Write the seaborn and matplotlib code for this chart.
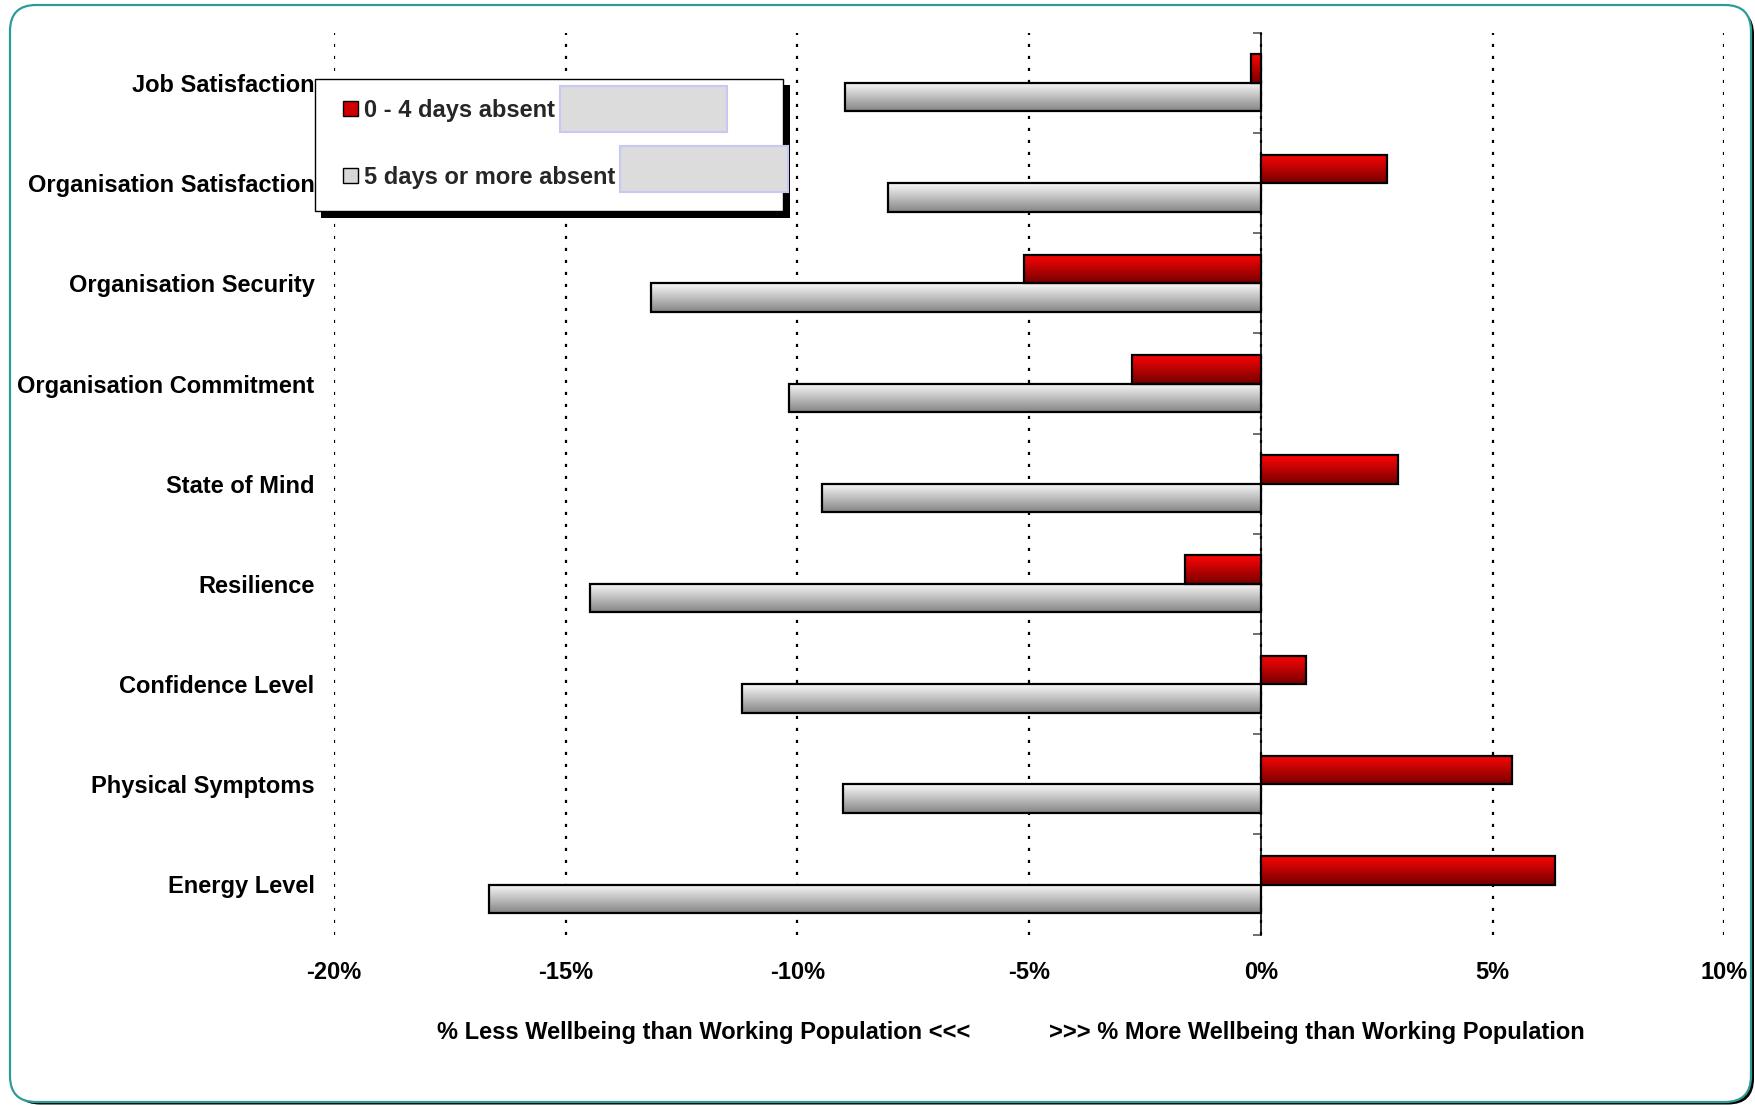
import numpy as np
import pandas as pd
import matplotlib
matplotlib.use("Agg")
import matplotlib.pyplot as plt
import seaborn as sns
from matplotlib.patches import Rectangle, FancyBboxPatch, Patch
from matplotlib.transforms import IdentityTransform
from matplotlib.ticker import FuncFormatter

# ---------------- data ----------------
categories = [
    "Job Satisfaction",
    "Organisation Satisfaction",
    "Organisation Security",
    "Organisation Commitment",
    "State of Mind",
    "Resilience",
    "Confidence Level",
    "Physical Symptoms",
    "Energy Level",
]
group_names = ["0 - 4 days absent", "5 days or more absent"]
absent_0_4 = [-0.21, 2.73, -5.12, -2.78, 2.96, -1.64, 0.98, 5.42, 6.35]
absent_5_plus = [-8.98, -8.04, -13.15, -10.19, -9.48, -14.48, -11.20, -9.01, -16.66]
x_ticks = [-20, -15, -10, -5, 0, 5, 10]
left_label = "% Less Wellbeing than Working Population <<<"
right_label = ">>> % More Wellbeing than Working Population"

# ---------------- style ----------------
sns.set_theme(style="white")
plt.rcParams["font.family"] = ["Liberation Sans", "DejaVu Sans"]
plt.rcParams["font.weight"] = "bold"
FS = 17

W, H = 1756, 1105


def fx(px):
    return px / W


def fy(py):
    return 1 - py / H


fig = plt.figure(figsize=(W / 100, H / 100), dpi=100)
fig.patch.set_facecolor("white")

# outer rounded frame with shadow
shadow = FancyBboxPatch((14, 0.5), 1740, 1096, boxstyle="round,pad=0,rounding_size=26",
                        transform=IdentityTransform(), facecolor="black", edgecolor="black",
                        linewidth=0, zorder=-10)
frame = FancyBboxPatch((10, 3), 1741, 1097, boxstyle="round,pad=0,rounding_size=26",
                       transform=IdentityTransform(), facecolor="white", edgecolor="#2E9C96",
                       linewidth=1.6, zorder=-9)
fig.add_artist(shadow)
fig.add_artist(frame)

ax_left, ax_right = 334, 1724.4
ax_top, ax_bottom = 32.8, 934.6
ax = fig.add_axes([fx(ax_left), fy(ax_bottom), (ax_right - ax_left) / W, (ax_bottom - ax_top) / H])
ax.set_facecolor("none")

df = pd.DataFrame({
    "Category": categories * 2,
    "Group": [group_names[0]] * len(categories) + [group_names[1]] * len(categories),
    "Value": absent_0_4 + absent_5_plus,
})

sns.barplot(data=df, x="Value", y="Category", hue="Group", order=categories,
            hue_order=group_names, orient="h", width=0.57,
            palette=["#CC0000", "#C8C8C8"], edgecolor="black", linewidth=1.6,
            errorbar=None, legend=False, ax=ax, zorder=3)


def gradient(top, bottom, n=64):
    t = np.linspace(0, 1, n)[:, None]
    top = np.array(top)[None, :]
    bottom = np.array(bottom)[None, :]
    return (top * (1 - t) + bottom * t)[:, None, :]


red_grad = gradient((1.0, 0.02, 0.02), (0.47, 0.0, 0.0))
grey_grad = gradient((0.98, 0.98, 0.98), (0.52, 0.52, 0.52))

for patch in list(ax.patches):
    x0, w = patch.get_x(), patch.get_width()
    y0, h = patch.get_y(), patch.get_height()
    fc = patch.get_facecolor()
    grad = red_grad if fc[0] > fc[1] + 0.2 else grey_grad
    im = ax.imshow(grad, extent=(x0, x0 + w, y0 + h, y0), origin="upper",
                   aspect="auto", interpolation="bilinear", zorder=2.9)
    im.set_clip_path(patch)
    patch.set_facecolor("none")

ax.set_xlim(x_ticks[0], x_ticks[-1])
ax.set_ylim(len(categories) - 0.5, -0.5)

ax.set_xticks(x_ticks)
ax.xaxis.set_major_formatter(FuncFormatter(lambda v, p: f"{v:.0f}%"))
ax.set_axisbelow(True)
ax.xaxis.grid(True, color="black", linestyle=(0, (1.4, 4.0)), linewidth=1.6)
ax.yaxis.grid(False)
for s in ax.spines.values():
    s.set_visible(False)
ax.tick_params(axis="x", length=0, pad=19, labelsize=FS, labelcolor="black")
ax.tick_params(axis="y", length=0, pad=14, labelsize=FS, labelcolor="black")
for lab in ax.get_xticklabels() + ax.get_yticklabels():
    lab.set_fontweight("bold")
ax.set_xlabel("")
ax.set_ylabel("")

# zero line with category-boundary ticks
zero_pos = (0 - x_ticks[0]) / (x_ticks[-1] - x_ticks[0])
sec = ax.secondary_yaxis(zero_pos)
sec.set_yticks([k - 0.5 for k in range(len(categories) + 1)])
sec.yaxis.set_ticks_position("left")
sec.tick_params(axis="y", direction="out", length=6, width=1.2, color="#555555",
                labelleft=False, labelright=False)
for s in sec.spines.values():
    s.set_color("black")
    s.set_linewidth(1.2)
sec.set_zorder(5)

# legend box with shadow
fig.add_artist(Rectangle((321, H - 217.7), 469, 132.7, transform=IdentityTransform(),
                         facecolor="black", edgecolor="none", zorder=3))
fig.add_artist(Rectangle((315, H - 211), 468.3, 131.7, transform=IdentityTransform(),
                         facecolor="white", edgecolor="black", linewidth=1.0, zorder=3.5))
fig.add_artist(Rectangle((559.7, H - 131.7), 167.6, 46, transform=IdentityTransform(),
                         facecolor="#DCDCDC", edgecolor="#C8C8F5", linewidth=1.5, zorder=4.5))
fig.add_artist(Rectangle((620.3, H - 192.3), 168, 46, transform=IdentityTransform(),
                         facecolor="#DCDCDC", edgecolor="#C8C8F5", linewidth=1.5, zorder=4.5))

handles = [Patch(facecolor="#D00000", edgecolor="black", linewidth=1.0),
           Patch(facecolor="#D8D8D8", edgecolor="black", linewidth=1.0)]
leg = fig.legend(handles, group_names, loc="center left",
                 bbox_to_anchor=(fx(343), fy(144)), frameon=False,
                 prop={"size": FS, "weight": "bold"}, handlelength=0.62,
                 handleheight=0.62, handletextpad=0.25, labelspacing=1.85,
                 borderpad=0, borderaxespad=0)
leg.set_zorder(6)

fig.text(fx(970), fy(1033), left_label, ha="right", va="center", fontsize=FS,
         fontweight="bold", color="black")
fig.text(fx(1049), fy(1033), right_label, ha="left", va="center", fontsize=FS,
         fontweight="bold", color="black")

fig.savefig("out.png", dpi=100)
